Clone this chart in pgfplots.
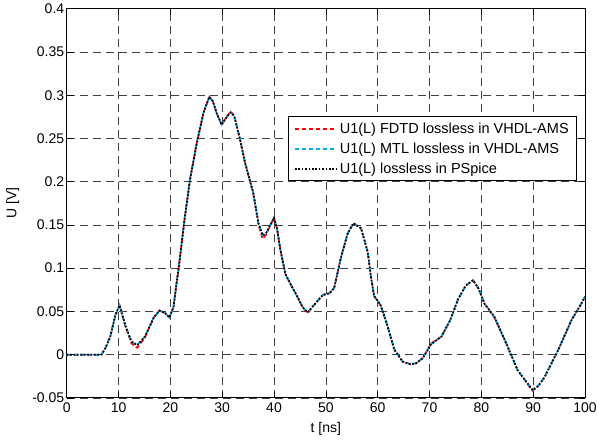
\documentclass[border=0pt]{standalone}
\usepackage{fontspec}
\setmainfont{Liberation Sans}
\usepackage{pgfplots}
\pgfplotsset{compat=1.18}

% black curve (PSpice); the VHDL-AMS curves follow it closely
\pgfplotstableread{
t u
0 0
5 0
6.7 0
7.5 0.008
8.4 0.021
9.4 0.046
10.2 0.057
11.3 0.034
12.5 0.015
13.6 0.011
15.1 0.021
16.8 0.043
17.9 0.051
19.0 0.048
19.8 0.043
20.6 0.055
21.2 0.083
21.6 0.100
22.7 0.155
23.8 0.203
25.1 0.245
26.4 0.280
27.5 0.298
28.2 0.293
29.0 0.278
29.9 0.266
30.8 0.274
31.6 0.280
32.3 0.276
33.4 0.250
34.4 0.222
36.0 0.187
37.0 0.152
37.8 0.138
38.5 0.141
39.3 0.150
40.0 0.158
40.6 0.145
41.2 0.122
42.2 0.093
43.5 0.078
44.5 0.067
45.5 0.055
46.5 0.049
47.8 0.058
49.4 0.069
50.7 0.071
51.6 0.077
52.9 0.112
54.2 0.140
55.3 0.152
56.8 0.146
58.1 0.118
58.7 0.090
59.3 0.068
60.6 0.057
61.8 0.035
63.2 0.006
64.8 -0.008
66.3 -0.011
67.4 -0.010
68.7 -0.004
70.3 0.012
72.3 0.021
74.0 0.040
75.5 0.064
77.0 0.080
78.4 0.086
79.5 0.076
80.6 0.059
82.5 0.044
85.1 0.009
87.0 -0.018
89.9 -0.041
91.0 -0.036
92.2 -0.026
94.8 0.005
97.4 0.040
99.0 0.056
100 0.067
}\pspice

\pgfplotstableread{
t u
0 0
5 0
6.7 0
7.5 0.008
8.4 0.021
9.4 0.046
10.2 0.057
11.3 0.033
12.5 0.013
13.6 0.008
15.1 0.020
16.8 0.043
17.9 0.051
19.0 0.048
19.8 0.043
20.6 0.055
21.2 0.083
21.6 0.100
22.7 0.155
23.8 0.203
25.1 0.245
26.4 0.280
27.5 0.298
28.2 0.293
29.0 0.278
29.9 0.266
30.8 0.275
31.6 0.281
32.3 0.277
33.4 0.250
34.4 0.222
36.0 0.186
37.0 0.150
37.8 0.134
38.5 0.139
39.3 0.150
40.0 0.158
40.6 0.145
41.2 0.122
42.2 0.093
43.5 0.078
44.5 0.067
45.5 0.055
46.5 0.048
47.8 0.058
49.4 0.069
50.7 0.071
51.6 0.077
52.9 0.112
54.2 0.140
55.3 0.152
56.8 0.146
58.1 0.118
58.7 0.090
59.3 0.068
60.6 0.056
61.8 0.035
63.2 0.006
64.8 -0.008
66.3 -0.011
67.4 -0.010
68.7 -0.004
70.3 0.013
72.3 0.021
74.0 0.040
75.5 0.064
77.0 0.080
78.4 0.086
79.5 0.076
80.6 0.059
82.5 0.043
85.1 0.009
87.0 -0.018
89.9 -0.042
91.0 -0.036
92.2 -0.026
94.8 0.005
97.4 0.040
99.0 0.056
100 0.067
}\fdtd

\begin{document}
\begin{tikzpicture}
\begin{axis}[
    name=ax,
    scale only axis,
    width=518pt, height=389pt,
    xmin=0, xmax=100, ymin=-0.05, ymax=0.4,
    xtick={0,10,...,100},
    ytick={-0.05,0,0.05,0.1,0.15,0.2,0.25,0.3,0.35,0.4},
    yticklabels={-0.05,0,0.05,0.1,0.15,0.2,0.25,0.3,0.35,0.4},
    xticklabels={0,10,20,30,40,50,60,70,80,90,100},
    tick label style={font=\fontsize{14}{16}\selectfont},
    label style={font=\fontsize{14}{16}\selectfont},
    xticklabel style={yshift=-1pt},
    yticklabel style={xshift=1pt},
    xlabel={t [ns]},
    ylabel={U [V]},
    xlabel style={at={(axis description cs:0.5,0)}, anchor=center, yshift=-31pt},
    ylabel style={at={(axis description cs:0,0.5)}, anchor=center, yshift=54pt},
    tick align=inside,
    major tick length=6pt,
    tick style={black, line width=0.7pt},
    axis line style={black, line width=0.9pt},
    xmajorgrids, ymajorgrids,
    major grid style={black!75, line width=0.7pt, dash pattern=on 8pt off 5pt},
    legend cell align=left,
    legend style={at={(axis cs:98.5,0.2755)}, anchor=north east,
        draw=black, line width=1pt, fill=white,
        font=\fontsize{14.5}{16}\selectfont, inner xsep=6pt, inner ysep=4pt,
        row sep=4pt},
    legend image code/.code={\draw[#1, line width=1.7pt] (0pt,0pt) -- (42pt,0pt);},
]
\addplot[red, line width=1.7pt, dash pattern=on 4.5pt off 2.5pt] table[x=t,y=u] {\fdtd};
\addlegendentry{U1(L) FDTD lossless in VHDL-AMS}
\addplot[cyan, line width=1.7pt, dash pattern=on 4.5pt off 2.5pt] table[x=t,y=u] {\pspice};
\addlegendentry{U1(L) MTL lossless in VHDL-AMS}
\addplot[black, line width=1.7pt, dash pattern=on 1.7pt off 1.7pt] table[x=t,y=u] {\pspice};
\addlegendentry{U1(L) lossless in PSpice}
\end{axis}
\pgfresetboundingbox
\path[use as bounding box] ([xshift=-66.7pt,yshift=-43.5pt]ax.south west) rectangle ([xshift=12pt,yshift=8.7pt]ax.north east);
\end{tikzpicture}
\end{document}
